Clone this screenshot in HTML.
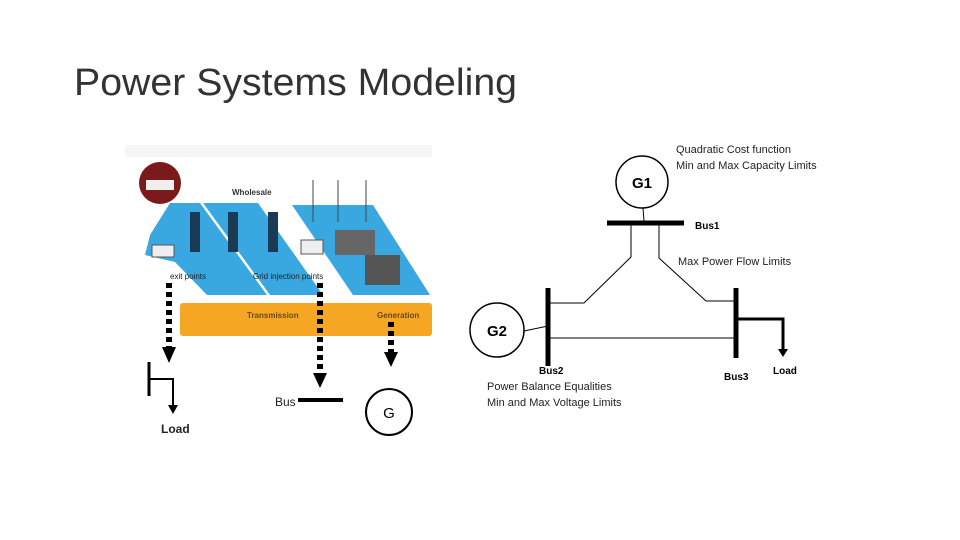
<!DOCTYPE html>
<html><head><meta charset="utf-8"><style>
html,body{margin:0;padding:0;background:#fff;}
svg{display:block}
text{font-family:"Liberation Sans",sans-serif;}
</style></head><body>
<svg width="960" height="540" viewBox="0 0 960 540" xmlns="http://www.w3.org/2000/svg">
<text x="74" y="95" font-size="38" fill="#333" textLength="443" lengthAdjust="spacingAndGlyphs">Power Systems Modeling</text>

<!-- left picture -->
<rect x="125" y="145" width="307" height="12" fill="#f6f6f6"/>
<polygon points="170,203 200,203 267,295 207,295 175,262 145,255 150,235" fill="#3aa8e0"/>
<polygon points="203,203 258,203 323,295 270,295" fill="#3aa8e0"/>
<polygon points="292,205 373,205 430,295 353,295" fill="#3aa8e0"/>
<rect x="180" y="303" width="252" height="33" rx="3" fill="#f5a623"/>
<text x="247" y="318" font-size="8" fill="#6a4a10" font-weight="bold">Transmission</text>
<text x="377" y="318" font-size="8" fill="#6a4a10" font-weight="bold">Generation</text>
<text x="232" y="195" font-size="8" fill="#333" font-weight="bold">Wholesale</text>
<text x="170" y="279" font-size="8" fill="#222">exit points</text>
<text x="253" y="279" font-size="8" fill="#222">Grid injection points</text>
<circle cx="160" cy="183" r="21" fill="#7a1a1a"/>
<rect x="146" y="180" width="28" height="10" fill="#eee"/>
<g fill="#1a3a55">
<rect x="190" y="212" width="10" height="40"/><rect x="228" y="212" width="10" height="40"/><rect x="268" y="212" width="10" height="40"/>
<rect x="335" y="230" width="40" height="25" fill="#666"/><rect x="365" y="255" width="35" height="30" fill="#555"/>
</g>
<g stroke="#444" stroke-width="1"><line x1="313" y1="180" x2="313" y2="222"/><line x1="338" y1="180" x2="338" y2="222"/><line x1="366" y1="180" x2="366" y2="222"/></g>
<rect x="152" y="245" width="22" height="12" fill="#eee" stroke="#555"/>
<rect x="301" y="240" width="22" height="14" fill="#eee" stroke="#555"/>

<!-- dotted arrows -->
<g stroke="#000" stroke-width="6" stroke-dasharray="5,4">
<line x1="169" y1="283" x2="169" y2="347"/>
<line x1="320" y1="283" x2="320" y2="373"/>
<line x1="391" y1="322" x2="391" y2="352"/>
</g>
<polygon points="162,347 176,347 169,363" fill="#000"/>
<polygon points="313,373 327,373 320,388" fill="#000"/>
<polygon points="384,352 398,352 391,367" fill="#000"/>

<!-- load symbol -->
<g stroke="#000" fill="none">
<line x1="149" y1="362" x2="149" y2="396" stroke-width="3"/>
<polyline points="149,379 173,379 173,406" stroke-width="2"/>
</g>
<polygon points="168,405 178,405 173,414" fill="#000"/>
<text x="161" y="433" font-size="12" font-weight="bold" fill="#222">Load</text>
<text x="275" y="406" font-size="12" fill="#222">Bus</text>
<line x1="298" y1="400" x2="343" y2="400" stroke="#000" stroke-width="4"/>
<circle cx="389" cy="412" r="23" fill="none" stroke="#000" stroke-width="2"/>
<text x="389" y="418" font-size="15" text-anchor="middle" fill="#000">G</text>

<!-- right diagram -->
<circle cx="642" cy="182" r="26" fill="none" stroke="#000" stroke-width="1.5"/>
<text x="642" y="188" font-size="15" font-weight="bold" text-anchor="middle">G1</text>
<line x1="643" y1="208" x2="644" y2="221" stroke="#000"/>
<line x1="607" y1="223" x2="684" y2="223" stroke="#000" stroke-width="5"/>
<text x="695" y="229" font-size="10" font-weight="bold">Bus1</text>
<text x="676" y="153" font-size="11" fill="#222">Quadratic Cost function</text>
<text x="676" y="169" font-size="11" fill="#222">Min and Max Capacity Limits</text>
<text x="678" y="265" font-size="11" fill="#222">Max Power Flow Limits</text>
<g stroke="#000" fill="none" stroke-width="1">
<polyline points="631,225 631,257 584,303 548,303"/>
<polyline points="659,225 659,258 706,301 736,301"/>
<line x1="548" y1="338" x2="736" y2="338"/>
<line x1="524" y1="331" x2="548" y2="326"/>
</g>
<line x1="548" y1="288" x2="548" y2="366" stroke="#000" stroke-width="5"/>
<line x1="736" y1="288" x2="736" y2="358" stroke="#000" stroke-width="5"/>
<polyline points="736,319 783,319 783,350" fill="none" stroke="#000" stroke-width="3"/>
<polygon points="778,349 788,349 783,357" fill="#000"/>
<circle cx="497" cy="330" r="27" fill="none" stroke="#000" stroke-width="1.5"/>
<text x="497" y="336" font-size="15" font-weight="bold" text-anchor="middle">G2</text>
<text x="539" y="374" font-size="10" font-weight="bold">Bus2</text>
<text x="724" y="380" font-size="10" font-weight="bold">Bus3</text>
<text x="773" y="374" font-size="10" font-weight="bold">Load</text>
<text x="487" y="390" font-size="11" fill="#222">Power Balance Equalities</text>
<text x="487" y="406" font-size="11" fill="#222">Min and Max Voltage Limits</text>
</svg>
</body></html>
